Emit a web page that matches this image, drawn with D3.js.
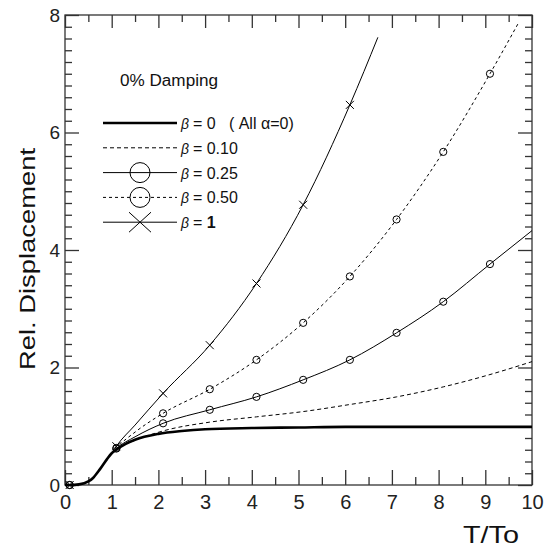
<!DOCTYPE html>
<html>
<head>
<meta charset="utf-8">
<script src="https://cdn.jsdelivr.net/npm/d3@7"></script>
<style>
    body { margin: 0; background: white; }
    svg { display: block; font-family: "Liberation Sans", Arial, sans-serif; }
    .legend-label { white-space: pre; }
</style>
</head>
<body>
<svg id="chart"></svg>
<script>

// shared start of all curves (T/To, rel. displacement)
let startPoints = [[0, 0], [0.1, 0], [0.3, 0.01], [0.5, 0.06], [0.6, 0.12], [0.75, 0.27], [0.9, 0.44], [1.0, 0.54]];

let beta0 = [[1.1, 0.6], [1.3, 0.7], [1.5, 0.77], [2, 0.87], [2.5, 0.92], [3, 0.95], [4, 0.97], [5, 0.98], [6, 0.99], [8, 0.99], [10, 0.99]];
let beta010 = [[1.1, 0.61], [1.5, 0.76], [2.1, 0.92], [3.1, 1.07], [4.1, 1.16], [5.1, 1.25], [6.1, 1.37], [7.1, 1.5], [8.1, 1.67], [9.1, 1.88], [10, 2.1]];
let beta025 = [[1.1, 0.62], [1.5, 0.82], [2.1, 1.05], [3.1, 1.28], [4.1, 1.5], [5.1, 1.79], [6.1, 2.13], [7.1, 2.59], [8.1, 3.12], [9.1, 3.76], [10, 4.33]];
let beta050 = [[1.1, 0.63], [1.5, 0.9], [2.1, 1.22], [3.1, 1.63], [4.1, 2.13], [5.1, 2.76], [6.1, 3.55], [7.1, 4.52], [8.1, 5.67], [9.1, 7.0], [9.7, 7.85]];
let beta1 = [[1.1, 0.66], [1.5, 1.02], [2.1, 1.56], [3.1, 2.38], [4.1, 3.43], [5.1, 4.77], [6.1, 6.47], [6.7, 7.62]];

// T/To values where symbols are drawn
let markerT = [0.1, 1.1, 2.1, 3.1, 4.1, 5.1, 6.1, 7.1, 8.1, 9.1];

let xTicks = [0, 1, 2, 3, 4, 5, 6, 7, 8, 9, 10];
let yTicks = [0, 2, 4, 6, 8];

let legendLabels = ["= 0   ( All \u03b1=0)", "= 0.10", "= 0.25", "= 0.50", "= 1"];

let series = [
    { label: legendLabels[0], points: startPoints.concat(beta0), width: 2.6, dash: null, marker: null },
    { label: legendLabels[1], points: startPoints.concat(beta010), width: 1, dash: "4,3", marker: null },
    { label: legendLabels[2], points: startPoints.concat(beta025), width: 1, dash: null, marker: "circle" },
    { label: legendLabels[3], points: startPoints.concat(beta050), width: 1, dash: "3,3", marker: "circle" },
    { label: legendLabels[4], points: startPoints.concat(beta1), width: 1, dash: null, marker: "cross" }
];

let width = 547;
let height = 550;

let svg = d3.select("#chart")
    .attr("width", width)
    .attr("height", height);

let x = d3.scaleLinear().domain([0, 10]).range([65, 532]);
let y = d3.scaleLinear().domain([0, 8]).range([485, 15]);

let axisColor = "#333";

function styleAxis(g, withLabels, fontSize) {
    g.select(".domain").remove();
    g.selectAll("line").attr("stroke", axisColor).attr("stroke-width", 1.3);
    if (withLabels) {
        g.selectAll("text")
            .attr("fill", "#222")
            .style("font-size", fontSize + "px")
            .style("font-family", "'Liberation Sans', Arial, sans-serif");
    } else {
        g.selectAll("text").remove();
    }
}

let halfSteps = d3.range(0, 10.01, 0.5).filter(v => v % 1 != 0);
let fifthSteps = d3.range(0, 8.001, 0.2).map(v => Math.round(v * 10) / 10).filter(v => v % 2 != 0);

// BOTTOM AXIS
svg.append("g")
    .attr("transform", `translate(0,${y(0)})`)
    .call(d3.axisBottom(x).tickValues(xTicks).tickSize(-15).tickSizeOuter(0).tickPadding(10).tickFormat(d3.format("d")))
    .call(g => styleAxis(g, true, 20));
svg.append("g")
    .attr("transform", `translate(0,${y(0)})`)
    .call(d3.axisBottom(x).tickValues(halfSteps).tickSize(-8).tickSizeOuter(0))
    .call(g => styleAxis(g, false));

// TOP AXIS
svg.append("g")
    .attr("transform", `translate(0,${y(8)})`)
    .call(d3.axisTop(x).tickValues(xTicks).tickSize(-13).tickSizeOuter(0))
    .call(g => styleAxis(g, false));
svg.append("g")
    .attr("transform", `translate(0,${y(8)})`)
    .call(d3.axisTop(x).tickValues(halfSteps).tickSize(-7).tickSizeOuter(0))
    .call(g => styleAxis(g, false));

// LEFT AXIS
svg.append("g")
    .attr("transform", `translate(${x(0)},0)`)
    .call(d3.axisLeft(y).tickValues(yTicks).tickSize(-14).tickSizeOuter(0).tickPadding(5).tickFormat(d3.format("d")))
    .call(g => styleAxis(g, true, 19));
svg.append("g")
    .attr("transform", `translate(${x(0)},0)`)
    .call(d3.axisLeft(y).tickValues(fifthSteps).tickSize(-7).tickSizeOuter(0))
    .call(g => styleAxis(g, false));

// RIGHT AXIS
svg.append("g")
    .attr("transform", `translate(${x(10)},0)`)
    .call(d3.axisRight(y).tickValues(yTicks).tickSize(-14).tickSizeOuter(0))
    .call(g => styleAxis(g, false));
svg.append("g")
    .attr("transform", `translate(${x(10)},0)`)
    .call(d3.axisRight(y).tickValues(fifthSteps).tickSize(-7).tickSizeOuter(0))
    .call(g => styleAxis(g, false));

// FRAME
svg.append("rect")
    .attr("x", x(0))
    .attr("y", y(8))
    .attr("width", x(10) - x(0))
    .attr("height", y(0) - y(8))
    .attr("fill", "none")
    .attr("stroke", axisColor)
    .attr("stroke-width", 1.3);

// AXIS TITLES
svg.append("text")
    .attr("transform", `translate(35,${(y(0) + y(8)) / 2 + 9}) rotate(-90)`)
    .attr("text-anchor", "middle")
    .attr("textLength", 222)
    .attr("lengthAdjust", "spacingAndGlyphs")
    .style("font-size", "22px")
    .attr("fill", "#111")
    .text("Rel. Displacement");

svg.append("text")
    .attr("x", 463)
    .attr("y", 543)
    .attr("textLength", 56)
    .attr("lengthAdjust", "spacingAndGlyphs")
    .style("font-size", "24px")
    .attr("fill", "#111")
    .text("T/To");

// CURVES
let line = d3.line()
    .x(d => x(d[0]))
    .y(d => y(d[1]))
    .curve(d3.curveMonotoneX);

let plot = svg.append("g");

for (let s of series) {
    plot.append("path")
        .datum(s.points)
        .attr("d", line)
        .attr("fill", "none")
        .attr("stroke", "#000")
        .attr("stroke-width", s.width)
        .attr("stroke-dasharray", s.dash);
}

function drawMarker(g, type, cx, cy, r) {
    if (type == "circle") {
        g.append("circle")
            .attr("cx", cx)
            .attr("cy", cy)
            .attr("r", r)
            .attr("fill", "none")
            .attr("stroke", "#000")
            .attr("stroke-width", 1);
    } else if (type == "cross") {
        g.append("path")
            .attr("d", `M${cx - r},${cy - r}L${cx + r},${cy + r}M${cx - r},${cy + r}L${cx + r},${cy - r}`)
            .attr("fill", "none")
            .attr("stroke", "#000")
            .attr("stroke-width", 1);
    }
}

for (let s of series) {
    if (!s.marker) continue;
    let pts = s.points.filter(p => markerT.includes(p[0]));
    for (let p of pts) {
        drawMarker(plot, s.marker, x(p[0]), y(p[1]), s.marker == "circle" ? 3.6 : 4);
    }
}

// LEGEND
svg.append("text")
    .attr("x", 120)
    .attr("y", 86)
    .attr("textLength", 98)
    .attr("lengthAdjust", "spacingAndGlyphs")
    .style("font-size", "16px")
    .attr("fill", "#111")
    .text("0% Damping");

let legend = svg.append("g");

series.forEach((s, i) => {
    let ly = 123 + i * 24.8;
    legend.append("line")
        .attr("x1", 103)
        .attr("x2", 177)
        .attr("y1", ly)
        .attr("y2", ly)
        .attr("stroke", "#000")
        .attr("stroke-width", s.width)
        .attr("stroke-dasharray", s.dash);

    if (s.marker == "circle") {
        drawMarker(legend, "circle", 140, ly, 10);
    } else if (s.marker == "cross") {
        legend.append("path")
            .attr("d", `M129,${ly - 10}L151,${ly + 10}M129,${ly + 10}L151,${ly - 10}`)
            .attr("fill", "none")
            .attr("stroke", "#000")
            .attr("stroke-width", 1);
    }

    let t = legend.append("text")
        .attr("class", "legend-label")
        .attr("x", 181)
        .attr("y", ly + 6)
        .style("font-size", "16px")
        .attr("fill", "#111");
    t.append("tspan")
        .style("font-style", "italic")
        .style("font-size", "14px")
        .text("\u03b2 ");
    if (i == 4) {
        t.append("tspan").text("= ");
        t.append("tspan").style("font-weight", "bold").text("1");
    } else {
        t.append("tspan").text(s.label);
    }
});

</script>
</body>
</html>
